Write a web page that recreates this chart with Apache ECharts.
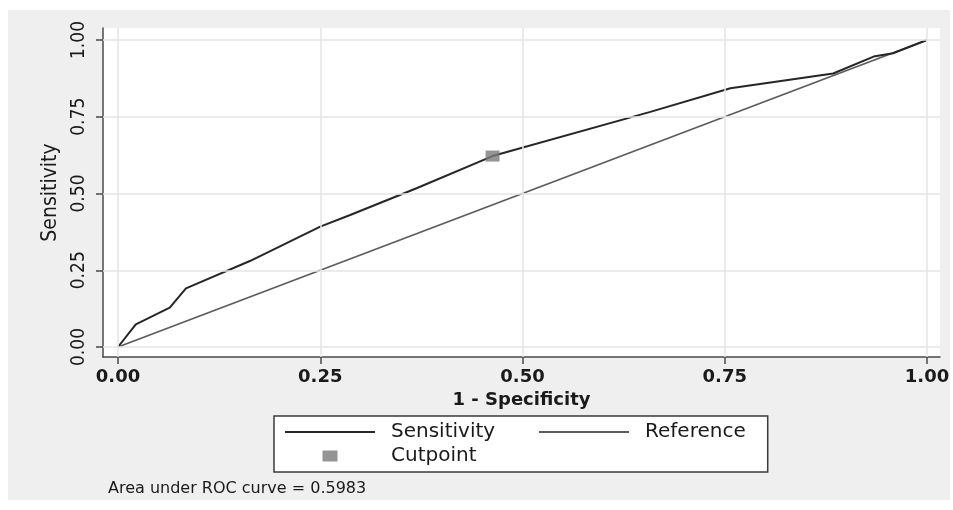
<!DOCTYPE html>
<html><head><meta charset="utf-8">
<script src="https://cdn.jsdelivr.net/npm/echarts@6/dist/echarts.min.js"></script>
<style>html,body{margin:0;padding:0;background:#fff}#c{width:953px;height:510px}</style>
</head><body><div id="c"></div>
<script>
// ROC curve points (1 - specificity, sensitivity)
const fpr = [0, 0.022, 0.064, 0.084, 0.163, 0.25, 0.287, 0.369, 0.463, 0.658, 0.757, 0.884, 0.934, 0.958, 1];
const tpr = [0, 0.074, 0.128, 0.191, 0.28, 0.392, 0.43, 0.517, 0.622, 0.766, 0.843, 0.891, 0.946, 0.957, 1];
// Reference diagonal
const refX = [0, 1];
const refY = [0, 1];
// Cutpoint
const cutX = [0.463];
const cutY = [0.622];
// Ticks
const ticks = [0, 0.25, 0.5, 0.75, 1];
const seriesNames = ['Sensitivity', 'Reference', 'Cutpoint'];
const xTitle = '1 - Specificity';
const yTitle = 'Sensitivity';
const aucLabel = 'Area under ROC curve = 0.5983';

const chart = echarts.init(document.getElementById('c'), null, {renderer: 'canvas'});
const zip = (a, b) => a.map((v, i) => [v, b[i]]);
const narrow = '"Liberation Sans Narrow", "DejaVu Sans Condensed", "Liberation Sans", sans-serif';
const wide = '"DejaVu Sans", sans-serif';
const axisColor = '#4a4a4a';

chart.setOption({
  animation: false,
  backgroundColor: '#fff',
  graphic: [{type: 'rect', left: 8, top: 10, shape: {width: 942, height: 490}, style: {fill: '#efefef'}, z: -10, silent: true}],
  title: {text: aucLabel, left: 108, top: 481, padding: 0,
    textStyle: {fontFamily: wide, fontSize: 16, fontWeight: 'normal', color: '#1a1a1a'}},
  grid: {left: 103, top: 28, width: 837, height: 329, show: true, backgroundColor: '#fff', borderWidth: 0, containLabel: false},
  xAxis: {
    type: 'value', min: -15 / 809, max: 1 + 13 / 809,
    name: xTitle, nameLocation: 'middle', nameGap: 31,
    nameTextStyle: {fontFamily: wide, fontSize: 18, fontWeight: 'bold', color: '#1a1a1a'},
    axisLine: {onZero: false, lineStyle: {color: axisColor, width: 1.5}},
    axisTick: {show: true, length: 7, customValues: ticks, lineStyle: {color: axisColor, width: 1.5}},
    axisLabel: {customValues: ticks, margin: 11, formatter: v => v.toFixed(2),
      fontFamily: wide, fontSize: 18, fontWeight: 'bold', color: '#1a1a1a'},
    splitLine: {show: false}
  },
  yAxis: {
    type: 'value', min: -10 / 307, max: 1 + 12 / 307,
    name: yTitle, nameLocation: 'middle', nameGap: 42,
    nameTextStyle: {fontFamily: narrow, fontSize: 21, color: '#1a1a1a'},
    axisLine: {onZero: false, lineStyle: {color: axisColor, width: 1.5}},
    axisTick: {show: true, length: 7, customValues: ticks, lineStyle: {color: axisColor, width: 1.5}},
    axisLabel: {customValues: ticks, margin: 14, rotate: 90, formatter: v => v.toFixed(2),
      fontFamily: narrow, fontSize: 19, color: '#1a1a1a'},
    splitLine: {show: false}
  },
  legend: {
    left: 274, top: 416, width: 496, orient: 'horizontal',
    padding: [6, 22, 6, 11], itemGap: 4, itemWidth: 90, itemHeight: 11,
    borderColor: '#3a3a3a', borderWidth: 1.5, borderRadius: 0, backgroundColor: '#fff',
    selectedMode: false,
    textStyle: {fontFamily: wide, fontSize: 20, color: '#1a1a1a', padding: [0, 0, 0, 11], lineHeight: 20},
    data: [
      {name: seriesNames[0], icon: 'path://M0,0h90v2h-90z', textStyle: {width: 144}},
      {name: seriesNames[1], icon: 'path://M0,0h90v1.8h-90z'},
      {name: seriesNames[2], icon: 'path://M0,0h15v11h-15z'}
    ]
  },
  series: [
    {
      name: 'grid', type: 'line', data: [], z: 1, silent: true,
      markLine: {
        silent: true, symbol: ['none', 'none'], label: {show: false},
        lineStyle: {color: '#e4e4e4', width: 1.5, type: 'solid'},
        emphasis: {disabled: true},
        data: ticks.map(v => ({xAxis: v})).concat(ticks.map(v => ({yAxis: v})))
      }
    },
    {
      name: seriesNames[1], type: 'line', data: zip(refX, refY), symbol: 'none', z: 3,
      lineStyle: {color: '#5c5c5c', width: 1.8}, itemStyle: {color: '#5c5c5c'}
    },
    {
      name: seriesNames[0], type: 'line', data: zip(fpr, tpr), symbol: 'none', z: 4,
      lineStyle: {color: '#262626', width: 2}, itemStyle: {color: '#262626'}
    },
    {
      name: seriesNames[2], type: 'scatter', data: zip(cutX, cutY), symbol: 'rect', symbolSize: [14, 11], z: 5,
      itemStyle: {color: '#7a7a7a'}
    }
  ]
});
</script></body></html>
